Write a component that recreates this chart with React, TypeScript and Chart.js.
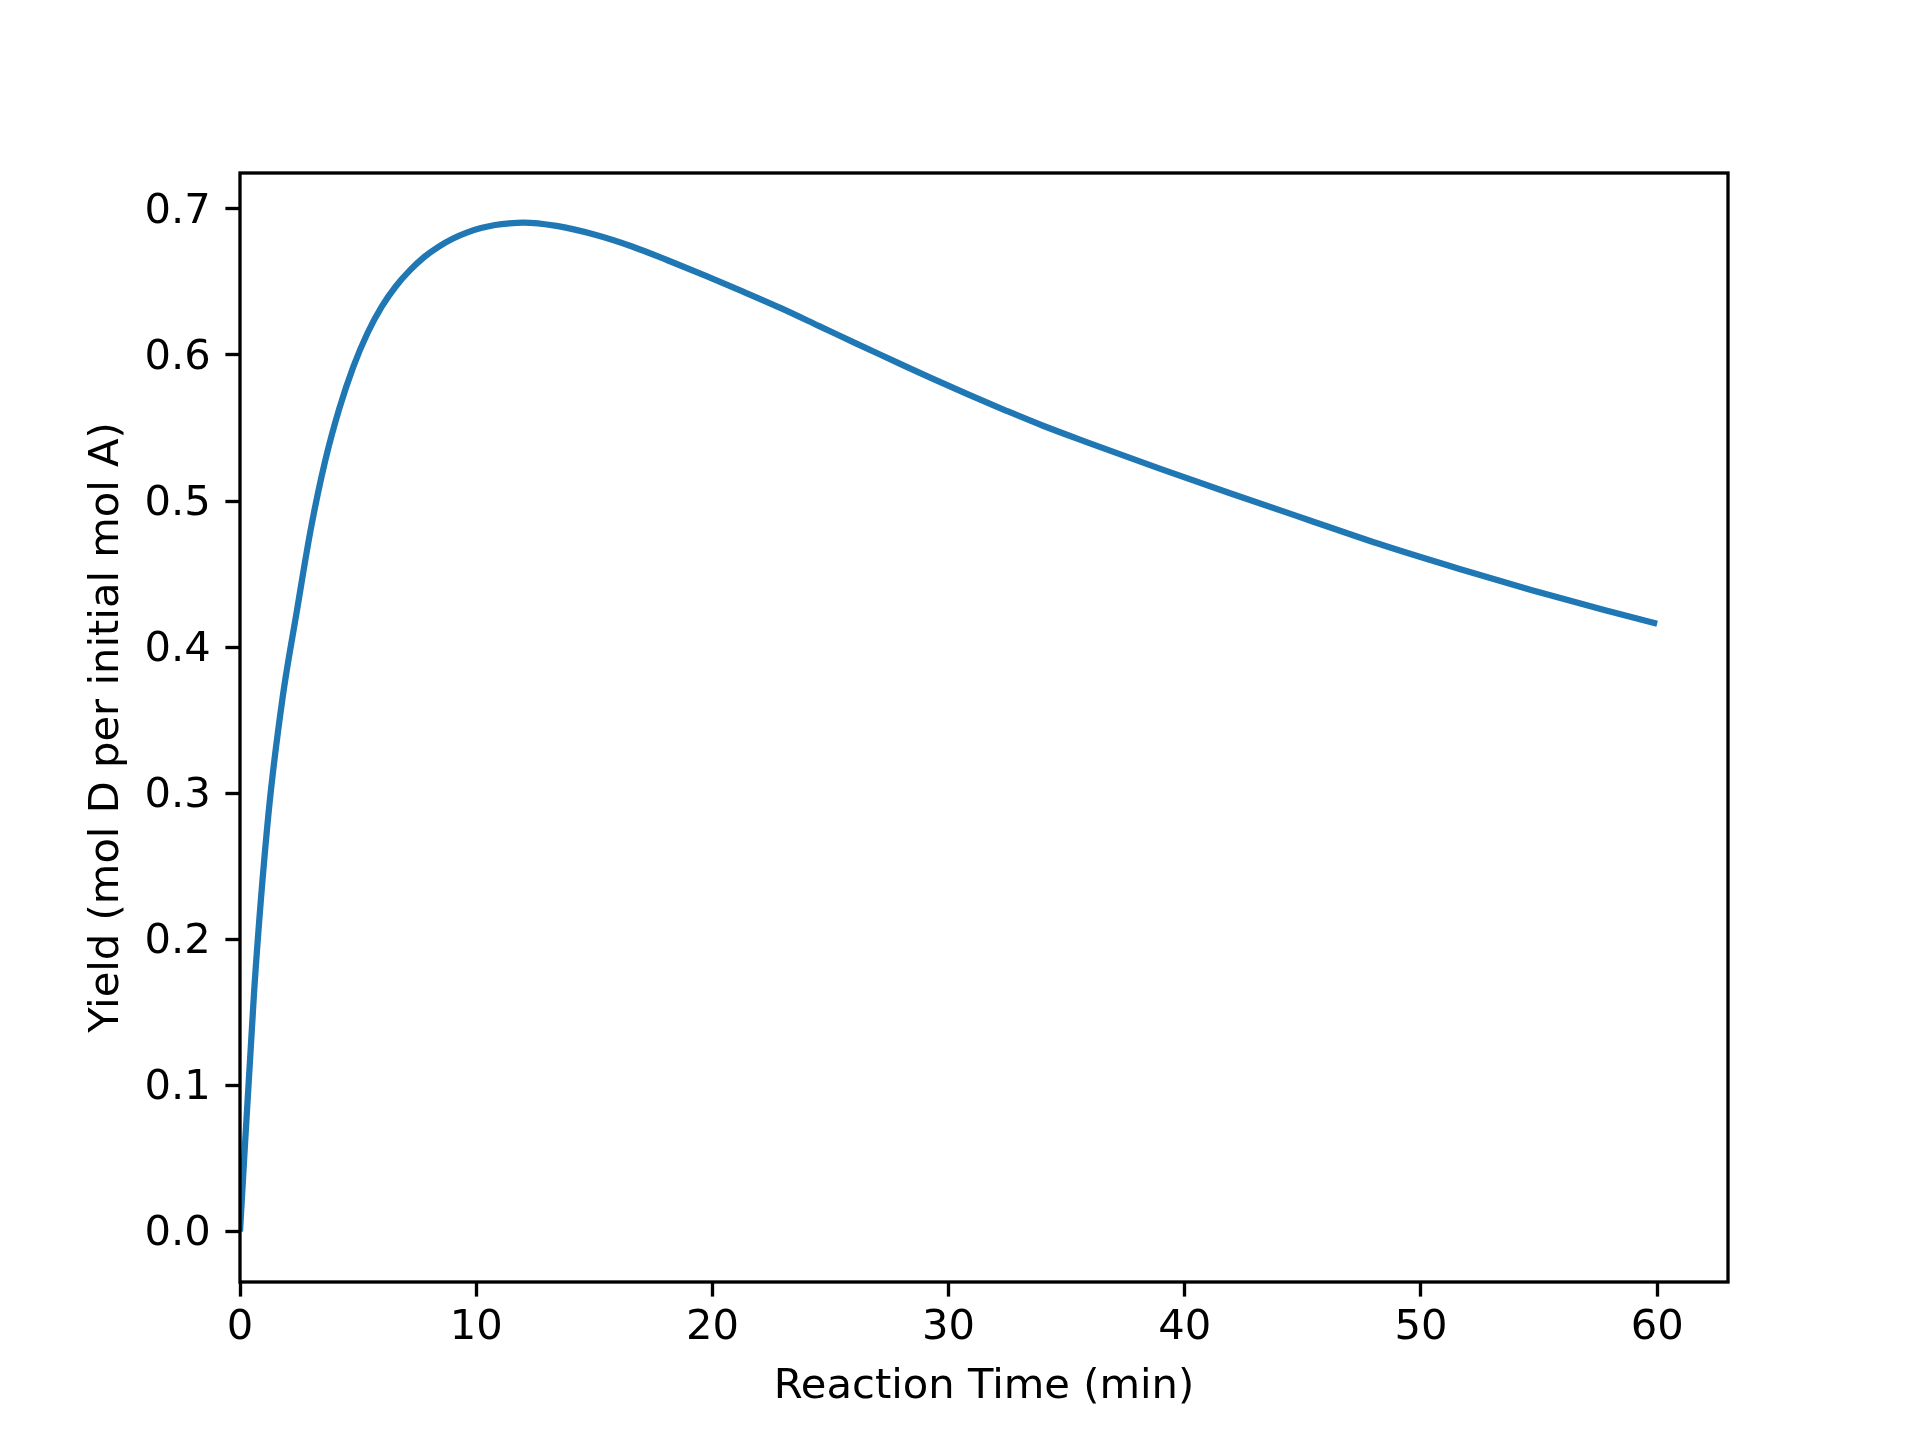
import { useEffect, useRef } from 'react'
import { Chart, registerables } from 'chart.js'

Chart.register(...registerables)

// reaction time (min) and yield of D (mol D per initial mol A)
const timeMin = [
  0, 0.6, 1.2, 1.8, 2.4, 3.0, 3.6, 4.2, 4.8, 5.4, 6.0, 6.6, 7.2, 7.8, 8.4, 9.0, 9.6, 10.2, 10.8, 11.4,
  12.0, 13.4, 15.0, 16.6, 18.1, 19.7, 21.3, 22.9, 24.5, 26.1, 27.7, 29.2, 30.8, 32.4, 34.0, 35.9,
  39.0, 42.2, 45.3, 48.4, 51.6, 54.7, 57.8, 60.0,
]
const yieldD = [
  0, 0.165, 0.285, 0.365, 0.424, 0.481, 0.527, 0.563, 0.592, 0.615, 0.633, 0.647, 0.658, 0.667, 0.674,
  0.6795, 0.6837, 0.6868, 0.6889, 0.6901,
  0.6906, 0.6883, 0.6824, 0.6742, 0.6648, 0.6543, 0.6433, 0.632, 0.6199, 0.6077, 0.5958, 0.5846,
  0.5731, 0.5621, 0.5515, 0.54,
  0.5218, 0.5038, 0.4867, 0.4697, 0.4537, 0.439, 0.4252, 0.416,
]
const xTicks = [0, 10, 20, 30, 40, 50, 60]
const yTicks = [0, 0.1, 0.2, 0.3, 0.4, 0.5, 0.6, 0.7]

const FS = 41.67 // 10pt at 300 dpi
const SPINE = 3.33
const TICK_LEN = 14.6

const framePlugin = {
  id: 'frame',
  afterDatasetsDraw(chart: any) {
    const { ctx, chartArea: a } = chart
    ctx.save()
    ctx.strokeStyle = '#000'
    ctx.lineWidth = SPINE
    ctx.strokeRect(a.left, a.top, a.right - a.left, a.bottom - a.top)
    ctx.restore()
  },
}

export default function App() {
  const canvasRef = useRef<HTMLCanvasElement>(null)

  useEffect(() => {
    document.body.style.margin = '0'
    if (!canvasRef.current) return

    Chart.defaults.font.family = "'DejaVu Sans', sans-serif"
    Chart.defaults.font.size = FS
    Chart.defaults.color = '#000'

    const chart = new Chart(canvasRef.current, {
      type: 'line',
      data: {
        datasets: [{
          data: timeMin.map((t, i) => ({ x: t, y: yieldD[i] })),
          borderColor: '#1f77b4',
          borderWidth: 6.25,
          pointRadius: 0,
          cubicInterpolationMode: 'monotone',
          fill: false,
        }]
      },
      options: {
        animation: false,
        responsive: false,
        devicePixelRatio: 1,
        layout: { padding: { left: 0, right: 192, top: 173, bottom: 0 } },
        plugins: {
          legend: { display: false },
          tooltip: { enabled: false },
        },
        scales: {
          x: {
            type: 'linear',
            min: 0,
            max: 63,
            afterBuildTicks: (scale: any) => { scale.ticks = xTicks.map(value => ({ value })) },
            afterFit: (scale: any) => { scale.height = 158 },
            ticks: { color: '#000', padding: 7, maxRotation: 0, autoSkip: false, font: { size: FS } },
            grid: { drawOnChartArea: false, drawTicks: true, tickLength: TICK_LEN, tickWidth: SPINE, tickColor: '#000' },
            border: { display: false },
            title: {
              display: true,
              text: 'Reaction Time (min)',
              color: '#000',
              font: { size: FS },
              padding: { top: 0, bottom: 28 },
            },
          },
          y: {
            type: 'linear',
            min: -0.0345,
            max: 0.7245,
            afterBuildTicks: (scale: any) => { scale.ticks = yTicks.map(value => ({ value })) },
            afterFit: (scale: any) => { scale.width = 240 },
            ticks: {
              color: '#000',
              padding: TICK_LEN,
              labelOffset: 3,
              font: { size: FS },
              callback: (v: any) => Number(v).toFixed(1),
            },
            grid: { drawOnChartArea: false, drawTicks: true, tickLength: TICK_LEN, tickWidth: SPINE, tickColor: '#000' },
            border: { display: false },
            title: {
              display: true,
              text: 'Yield (mol D per initial mol A)',
              color: '#000',
              font: { size: FS },
              padding: { top: 82, bottom: 0 },
            },
          },
        },
      },
      plugins: [framePlugin],
    })

    return () => chart.destroy()
  }, [])

  return (
    <div style={{ width: 1920, height: 1440, background: '#fff' }}>
      <canvas ref={canvasRef} width={1920} height={1440} style={{ display: 'block' }}></canvas>
    </div>
  )
}
